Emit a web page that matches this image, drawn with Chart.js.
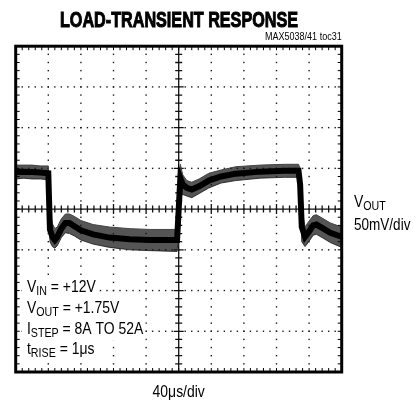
<!DOCTYPE html>
<html>
<head>
<meta charset="utf-8">
<title>Load-Transient Response</title>
<script src="https://cdn.jsdelivr.net/npm/chart.js@4.4.1/dist/chart.umd.min.js"></script>
<style>
  html, body { margin: 0; padding: 0; background: #fff; }
  canvas { display: block; }
</style>
</head>
<body>
<canvas id="scope" width="417" height="402"></canvas>
<script>
// Scope trace (time in us, VOUT deviation in mV)
const timeUs = [0, 10, 20, 30, 40, 42, 45, 48, 51, 56, 61, 66, 72, 80, 95, 115, 140, 165, 198,
                200, 202, 205, 210, 216, 225, 237, 252, 270, 300, 330, 347,
                349, 351, 355, 359, 365, 369, 376, 386, 400];
const voutMv = [45.5, 46, 45.5, 45, 44, -25, -34, -38, -34, -24, -17, -17, -21, -26, -31, -35, -37, -38, -38,
                0, 38, 30, 26, 24, 28, 35, 40, 43.5, 46, 47, 47,
                30, -22, -34, -29, -20, -19, -23, -29, -34];
// noise envelope around the trace
const noiseHiMv = [54, 54, 54, 53, 53, -5, -18, -24, -22, -12, -6, -6, -9, -14, -19, -22, -24, -25, -25,
                   30, 55, 42, 35, 33, 37, 44, 48, 52, 54, 55, 55,
                   50, 0, -22, -16, -8, -7, -11, -17, -22];
const noiseLoMv = [37, 38, 37, 37, 36, -40, -46, -48, -45, -35, -29, -30, -33, -38, -43, -47, -50, -51, -52,
                   -30, 15, 18, 16, 14, 19, 26, 32, 35, 38, 39, 39,
                   10, -40, -46, -41, -32, -31, -35, -41, -47];

// Graticule: 10 x 8 divisions, 5 minor marks per division
const xDivUs = 40, xDivs = 10;
const yDivMv = 50, yDivs = 8;
const minorPerDiv = 5;

const conditions = [
    ['V', 'IN', ' = +12V'],
    ['V', 'OUT', ' = +1.75V'],
    ['I', 'STEP', ' = 8A TO 52A'],
    ['t', 'RISE', ' = 1\u03bcs']
];

const FONT = '"Liberation Sans", Arial, sans-serif';
const NARROW = 0.82; // squeeze Liberation Sans to look like a condensed face

function points(values) {
    return timeUs.map((t, i) => ({ x: t, y: values[i] }));
}

// draw narrow text, returns its width
function narrowText(ctx, text, x, y, font, align) {
    ctx.font = font;
    const w = ctx.measureText(text).width * NARROW;
    let x0 = x;
    if (align === 'right') x0 = x - w;
    if (align === 'center') x0 = x - w / 2;
    ctx.save();
    ctx.translate(x0, y);
    ctx.scale(NARROW, 1);
    ctx.textAlign = 'left';
    ctx.fillText(text, 0, 0);
    ctx.restore();
    return w;
}

function drawSub(ctx, x, y, parts, size, subSize) {
    const [main, sub, rest] = parts;
    x += narrowText(ctx, main, x, y, size + 'px ' + FONT);
    x += narrowText(ctx, sub, x, y + 3, subSize + 'px ' + FONT);
    x += narrowText(ctx, rest, x, y, size + 'px ' + FONT);
    return x;
}

// Dotted graticule + centre axes (under the trace)
const graticule = {
    id: 'graticule',
    beforeDatasetsDraw(chart) {
        const { ctx, scales: { x, y } } = chart;
        const yMin = -yDivMv * yDivs / 2;
        const xMinor = xDivUs / minorPerDiv;
        const yMinor = yDivMv / minorPerDiv;
        ctx.save();
        ctx.fillStyle = '#1a1a1a';

        // vertical dotted lines
        for (let i = 1; i < xDivs; i++) {
            if (i === xDivs / 2) continue;
            const px = x.getPixelForValue(i * xDivUs);
            for (let j = 1; j < yDivs * minorPerDiv; j++) {
                const py = y.getPixelForValue(yMin + j * yMinor);
                ctx.fillRect(px - 0.7, py - 0.7, 1.4, 1.4);
            }
        }
        // horizontal dotted lines
        for (let k = 1; k < yDivs; k++) {
            if (k === yDivs / 2) continue;
            const py = y.getPixelForValue(yMin + k * yDivMv);
            for (let j = 1; j < xDivs * minorPerDiv; j++) {
                const px = x.getPixelForValue(j * xMinor);
                ctx.fillRect(px - 0.7, py - 0.7, 1.4, 1.4);
            }
        }

        // centre axes with minor ticks
        const cx = x.getPixelForValue(xDivs * xDivUs / 2);
        const cy = y.getPixelForValue(0);
        const a = chart.chartArea;
        ctx.strokeStyle = '#111';
        ctx.lineWidth = 1.3;
        ctx.beginPath();
        ctx.moveTo(a.left, cy); ctx.lineTo(a.right, cy);
        ctx.moveTo(cx, a.top); ctx.lineTo(cx, a.bottom);
        for (let j = 1; j < xDivs * minorPerDiv; j++) {
            const px = x.getPixelForValue(j * xMinor);
            const len = j % minorPerDiv === 0 ? 5 : 3.5;
            ctx.moveTo(px, cy - len); ctx.lineTo(px, cy + len);
        }
        for (let j = 1; j < yDivs * minorPerDiv; j++) {
            const py = y.getPixelForValue(yMin + j * yMinor);
            const len = j % minorPerDiv === 0 ? 5 : 3.5;
            ctx.moveTo(cx - len, py); ctx.lineTo(cx + len, py);
        }
        ctx.stroke();
        ctx.restore();
    },
    afterDraw(chart) {
        const { ctx, scales: { x, y } } = chart;
        const a = chart.chartArea;
        const yMin = -yDivMv * yDivs / 2;
        ctx.save();

        // test conditions sit on a white patch that hides the graticule
        const rows = [292, 313, 334, 354];
        ctx.fillStyle = '#fff';
        conditions.forEach((c, i) => {
            ctx.font = '17px ' + FONT;
            const w = (ctx.measureText(c[0] + c[2]).width + ctx.measureText(c[1]).width * 13 / 17) * NARROW;
            ctx.fillRect(22, rows[i] - 15, w + 7, 21);
        });

        // frame with inner minor ticks
        ctx.strokeStyle = '#000';
        ctx.lineWidth = 1;
        ctx.beginPath();
        for (let j = 1; j < xDivs * minorPerDiv; j++) {
            const px = x.getPixelForValue(j * xDivUs / minorPerDiv);
            ctx.moveTo(px, a.top); ctx.lineTo(px, a.top + 4);
            ctx.moveTo(px, a.bottom); ctx.lineTo(px, a.bottom - 4);
        }
        for (let j = 1; j < yDivs * minorPerDiv; j++) {
            const py = y.getPixelForValue(yMin + j * yDivMv / minorPerDiv);
            ctx.moveTo(a.left, py); ctx.lineTo(a.left + 4, py);
            ctx.moveTo(a.right, py); ctx.lineTo(a.right - 4, py);
        }
        ctx.stroke();
        ctx.lineWidth = 3;
        ctx.strokeRect(a.left, a.top, a.right - a.left, a.bottom - a.top);

        // title
        ctx.fillStyle = '#000';
        const title = 'LOAD-TRANSIENT RESPONSE';
        ctx.font = 'bold 22px ' + FONT;
        ctx.textAlign = 'left';
        ctx.textBaseline = 'alphabetic';
        const tw = ctx.measureText(title).width;
        ctx.save();
        ctx.translate(60, 27);
        ctx.scale(238 / tw, 1);
        ctx.strokeStyle = '#000';
        ctx.lineWidth = 1;
        ctx.fillText(title, 0, 0);
        ctx.strokeText(title, 0, 0);
        ctx.restore();

        // part number tag
        narrowText(ctx, 'MAX5038/41 toc31', a.right, 40, '11px ' + FONT, 'right');

        // channel label
        drawSub(ctx, 354, 207, ['V', 'OUT', ''], 17, 13);
        narrowText(ctx, '50mV/div', 354, 230, '16.5px ' + FONT);

        // time base
        narrowText(ctx, '40\u03bcs/div', (a.left + a.right) / 2, 397, '17px ' + FONT, 'center');

        // test conditions
        conditions.forEach((c, i) => drawSub(ctx, 27, rows[i], c, 17, 13));
        ctx.restore();
    }
};

new Chart(document.getElementById('scope').getContext('2d'), {
    type: 'line',
    data: {
        datasets: [
            {
                label: 'VOUT',
                data: points(voutMv),
                borderColor: '#000',
                borderWidth: 6,
                pointRadius: 0,
                tension: 0,
                fill: false,
                order: 0
            },
            {
                label: 'noise high',
                data: points(noiseHiMv),
                borderColor: '#444',
                borderWidth: 1,
                backgroundColor: 'rgba(20, 20, 20, 0.72)',
                pointRadius: 0,
                tension: 0,
                fill: '+1',
                order: 1
            },
            {
                label: 'noise low',
                data: points(noiseLoMv),
                borderColor: '#444',
                borderWidth: 1,
                pointRadius: 0,
                tension: 0,
                fill: false,
                order: 2
            }
        ]
    },
    options: {
        responsive: false,
        animation: false,
        devicePixelRatio: 1,
        layout: {
            padding: { left: 15.7, top: 46.2, right: 75.3, bottom: 30 }
        },
        plugins: {
            legend: { display: false },
            tooltip: { enabled: false }
        },
        scales: {
            x: {
                type: 'linear',
                display: false,
                min: 0,
                max: xDivUs * xDivs
            },
            y: {
                type: 'linear',
                display: false,
                min: -yDivMv * yDivs / 2,
                max: yDivMv * yDivs / 2
            }
        }
    },
    plugins: [graticule]
});
</script>
</body>
</html>
